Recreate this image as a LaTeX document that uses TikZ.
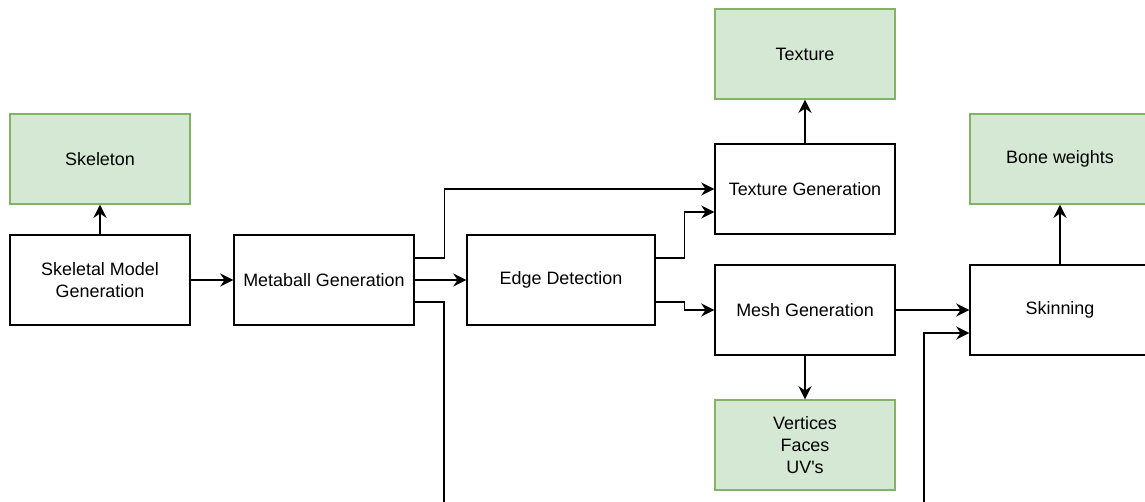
\documentclass[tikz,border=0pt]{standalone}
\usepackage{fontspec}
\setmainfont{Liberation Sans}
\usepackage{tikz}
\usetikzlibrary{calc,positioning,arrows.meta}
\usepackage{xcolor}
\definecolor{outfill}{HTML}{D5E8D4}
\definecolor{outline}{HTML}{82B366}

\begin{document}
\begin{tikzpicture}[x=0.02cm,y=-0.02cm,
        stage/.style={draw=black, line width=0.8pt, fill=white, minimum width=3.6cm, minimum height=1.8cm, align=center, inner sep=2pt,
            font=\fontsize{10.2}{12.5}\selectfont},
        result/.style={stage, draw=outline, fill=outfill},
        arr/.style={line width=0.8pt, -{Stealth[length=7.5pt,width=7.5pt,inset=2.5pt]}}]
        \useasboundingbox (0,0) rectangle (1145,501);
        % Pipeline stages
        \node[stage] (skelgen) at (100,280) {Skeletal Model\\Generation};
        \node[stage] (metaball) at (324,280) {Metaball Generation};
        \node[stage, minimum width=3.76cm] (edge) at (561,280) {Edge Detection};
        \node[stage] (texgen) at (805,189) {Texture Generation};
        \node[stage] (meshgen) at (805,310) {Mesh Generation};
        \node[stage] (skinning) at (1060,310) {Skinning};
        % Outputs
        \node[result] (skeleton) at (100,159) {Skeleton};
        \node[result] (texture) at (805,54) {Texture};
        \node[result] (verts) at (805,445) {Vertices\\Faces\\UV\textquotesingle s};
        \node[result] (bones) at (1060,159) {Bone weights};
        % Loose ends leaving the picture
        \coordinate (mbend) at (444,505);
        \coordinate (skinin) at (924,505);
        % Connectors
        \draw[arr] (skelgen) -- (skeleton);
        \draw[arr] (skelgen) -- (metaball);
        \draw[arr] ($(metaball.east)+(0,-22)$) -- ++(30,0) |- (texgen.west);
        \draw[arr] (metaball) -- (edge);
        \draw[line width=0.8pt] ($(metaball.east)+(0,22)$) -| (mbend);
        \draw[arr] ($(edge.east)+(0,-22)$) -- ++(29,0) |- ($(texgen.west)+(0,23)$);
        \draw[arr] ($(edge.east)+(0,22)$) -- ++(29,0) |- (meshgen.west);
        \draw[arr] (texgen) -- (texture);
        \draw[arr] (meshgen) -- (verts);
        \draw[arr] (meshgen) -- (skinning);
        \draw[arr] (skinin) |- ($(skinning.west)+(0,23)$);
        \draw[arr] (skinning) -- (bones);
    \end{tikzpicture}
\end{document}
